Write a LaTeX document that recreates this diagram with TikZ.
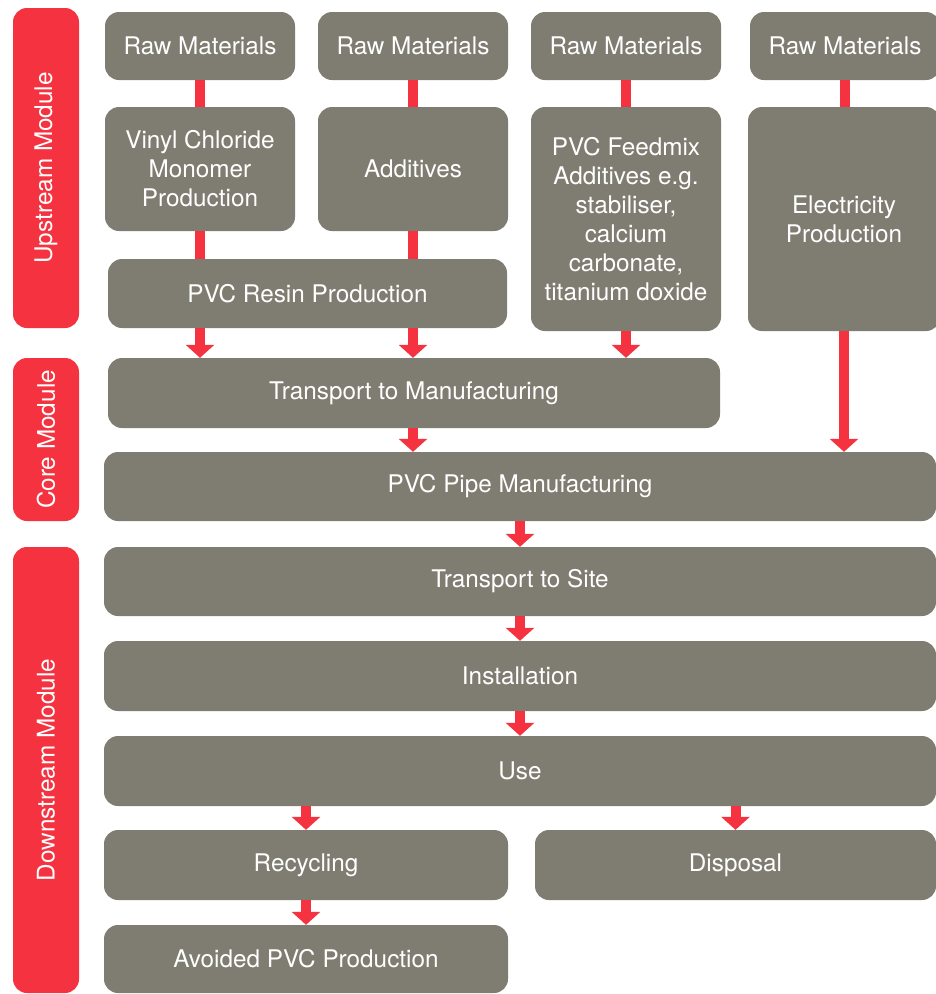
\documentclass[tikz,border=0pt]{standalone}
\usepackage{fontspec}
\setmainfont{TeX Gyre Heros}
\usetikzlibrary{arrows.meta}
\definecolor{boxgray}{RGB}{127,125,113}
\definecolor{modred}{RGB}{245,51,64}

\begin{document}
\begin{tikzpicture}[x=1pt,y=-1pt]
	\tikzstyle{box}=[rectangle,rounded corners=14pt,fill=boxgray,text=white,inner sep=0pt,align=center,font=\fontsize{24.3}{29}\selectfont]
	\tikzstyle{module}=[box,fill=modred,rotate=90,minimum height=66pt]
	\tikzstyle{link}=[color=modred,line width=10pt]
	\tikzstyle{flow}=[link,-{Triangle[width=28pt,length=13pt]}]
	\useasboundingbox[fill=white] (0,0) rectangle (936,994);
	% modules
	\node[module,minimum width=320pt](up) at (46,168) {Upstream Module};
	\node[module,minimum width=163pt](core) at (46,439.5) {Core Module};
	\node[module,minimum width=446pt](down) at (46,770) {Downstream Module};
	% upstream
	\node[box,minimum width=190pt,minimum height=68pt](rm1) at (200,46) {Raw Materials};
	\node[box,minimum width=190pt,minimum height=68pt](rm2) at (413,46) {Raw Materials};
	\node[box,minimum width=190pt,minimum height=68pt](rm3) at (626,46) {Raw Materials};
	\node[box,minimum width=190pt,minimum height=68pt](rm4) at (845,46) {Raw Materials};
	\node[box,minimum width=190pt,minimum height=124pt](vcm) at (200,169) {Vinyl Chloride\\Monomer\\Production};
	\node[box,minimum width=190pt,minimum height=124pt](add) at (413,169) {Additives};
	\node[box,minimum width=190pt,minimum height=224pt](feed) at (626,219) {PVC Feedmix\\Additives e.g.\\stabiliser,\\calcium\\carbonate,\\titanium doxide};
	\node[box,minimum width=192pt,minimum height=224pt](elec) at (844,219) {Electricity\\Production};
	\node[box,minimum width=399pt,minimum height=69pt](resin) at (307.5,293.5) {PVC Resin Production};
	% core
	\node[box,minimum width=612pt,minimum height=70pt](transm) at (414,393) {Transport to Manufacturing};
	\node[box,minimum width=832pt,minimum height=69pt](pipe) at (520,486.5) {PVC Pipe Manufacturing};
	% downstream
	\node[box,minimum width=832pt,minimum height=69pt](site) at (520,581.5) {Transport to Site};
	\node[box,minimum width=832pt,minimum height=70pt](inst) at (520,676) {Installation};
	\node[box,minimum width=832pt,minimum height=70pt](use) at (520,771) {Use};
	\node[box,minimum width=404pt,minimum height=70pt](recyc) at (306,865) {Recycling};
	\node[box,minimum width=401pt,minimum height=70pt](disp) at (735.5,865) {Disposal};
	\node[box,minimum width=404pt,minimum height=68pt](avoid) at (306,959) {Avoided PVC Production};
	\path[link]
		(rm1) edge (vcm)
		(rm2) edge (add)
		(rm3) edge (feed)
		(rm4) edge (rm4 |- elec.north)
		(vcm) edge (vcm |- resin.north)
		(add) edge (add |- resin.north);
	\path[flow]
		(vcm |- resin.south) edge (vcm |- transm.north)
		(add |- resin.south) edge (add |- transm.north)
		(feed) edge (feed |- transm.north)
		(elec) edge (elec |- pipe.north)
		(add |- transm.south) edge (add |- pipe.north)
		(pipe) edge (site)
		(site) edge (inst)
		(inst) edge (use)
		(recyc |- use.south) edge (recyc)
		(disp |- use.south) edge (disp.north)
		(recyc) edge (avoid);
\end{tikzpicture}
\end{document}
